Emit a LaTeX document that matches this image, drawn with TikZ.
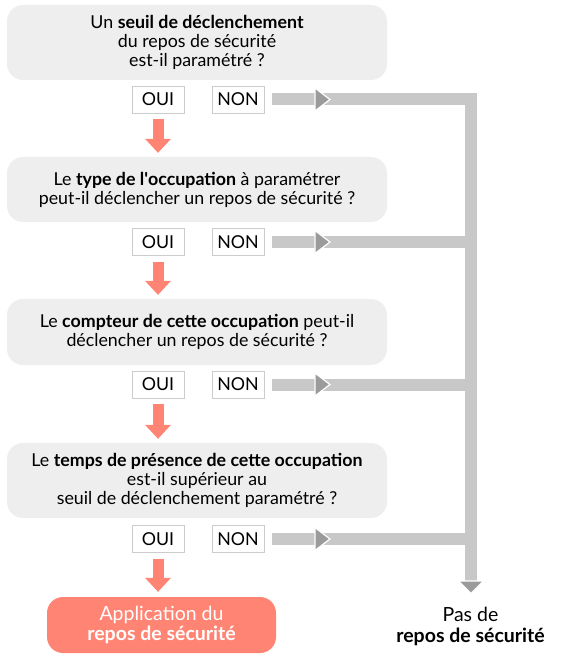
\documentclass[tikz,border=0pt]{standalone}
\usepackage{fontspec}
\setmainfont{Lato}
\usetikzlibrary{arrows.meta,calc}
\definecolor{boxgray}{HTML}{EEEEEE}
\definecolor{bargray}{HTML}{C8C8C8}
\definecolor{headgray}{HTML}{9B9B9B}
\definecolor{salmon}{HTML}{FF8473}
\definecolor{framegray}{HTML}{CCCCCC}
\begin{document}
\begin{tikzpicture}[x=1pt,y=-1pt,
  font=\fontsize{17.8}{19}\selectfont,
  question/.style={fill=boxgray, rounded corners=16pt, minimum width=380pt, align=center, inner sep=0pt},
  answer/.style={draw=framegray, line width=0.9pt, fill=white, minimum width=52pt, minimum height=27pt, inner sep=0pt},
  result/.style={fill=salmon, rounded corners=16pt, minimum width=229pt, minimum height=56pt, align=center, inner sep=0pt, text=white, font=\fontsize{19.5}{20.5}\selectfont},
  outcome/.style={align=center, inner sep=0pt, font=\fontsize{19.5}{21}\selectfont},
  yesarrow/.style={draw=salmon, line width=11pt, -{Triangle[length=14pt,width=26pt,line width=0pt,fill=salmon]}},
  graybar/.style={draw=bargray, line width=12pt, line join=miter},
  grayhead/.style={fill=headgray, draw=white, line width=1.2pt, line join=miter}
]
\useasboundingbox (0,0) rectangle (578,660);

% question boxes
\node[question, minimum height=75pt] (q1) at (197,42.5) {Un \textbf{seuil de déclenchement}\\du repos de sécurité\\est-il paramétré ?};
\node[question, minimum height=65pt] (q2) at (197,189.5) {Le \textbf{type de l\textquotesingle occupation} à paramétrer\\peut-il déclencher un repos de sécurité ?};
\node[question, minimum height=66pt] (q3) at (197,332) {Le \textbf{compteur de cette occupation} peut-il\\déclencher un repos de sécurité ?};
\node[question, minimum height=75pt] (q4) at (197,480.5) {Le \textbf{temps de présence de cette occupation}\\est-il supérieur au\\seuil de déclenchement paramétré ?};

% answers
\foreach \i/\y in {1/99.5,2/242,3/384.5,4/539}{
  \node[answer] (oui\i) at (158,\y) {OUI};
  \node[answer] (non\i) at (238,\y) {NON};
}

% results
\node[result] (yes) at (161.5,625) {Application du\\\textbf{repos de sécurité}};
\node[outcome] (no) at (470.5,626) {Pas de\\\textbf{repos de sécurité}};

% vertical gray line
\coordinate (vx) at (471,0);
\coordinate (vend) at (471,581);
\draw[graybar] ([xshift=8pt]non1.east) -- (non1 -| vx) -- (vend);
\foreach \i in {2,3,4}{
  \draw[graybar] ([xshift=8pt]non\i.east) -- (non\i -| vx);
}
% gray heads
\foreach \i in {1,2,3,4}{
  \coordinate (h\i) at ([xshift=58pt]non\i.east);
  \filldraw[grayhead] ($(h\i)+(-7.5,-11.5)$) -- ($(h\i)+(7.5,0)$) -- ($(h\i)+(-7.5,11.5)$) -- cycle;
}
\filldraw[grayhead] ($(vend)+(-12.5,0)$) -- ($(vend)+(12.5,0)$) -- ($(vend)+(0,12.5)$) -- cycle;

% yes arrows
\draw[yesarrow] ([yshift=-6pt]oui1.south) -- ([yshift=4pt]q2.north -| oui1);
\draw[yesarrow] ([yshift=-6pt]oui2.south) -- ([yshift=4pt]q3.north -| oui2);
\draw[yesarrow] ([yshift=-6pt]oui3.south) -- ([yshift=4pt]q4.north -| oui3);
\draw[yesarrow] ([yshift=-6pt]oui4.south) -- ([yshift=5pt]yes.north -| oui4);
\end{tikzpicture}
\end{document}
